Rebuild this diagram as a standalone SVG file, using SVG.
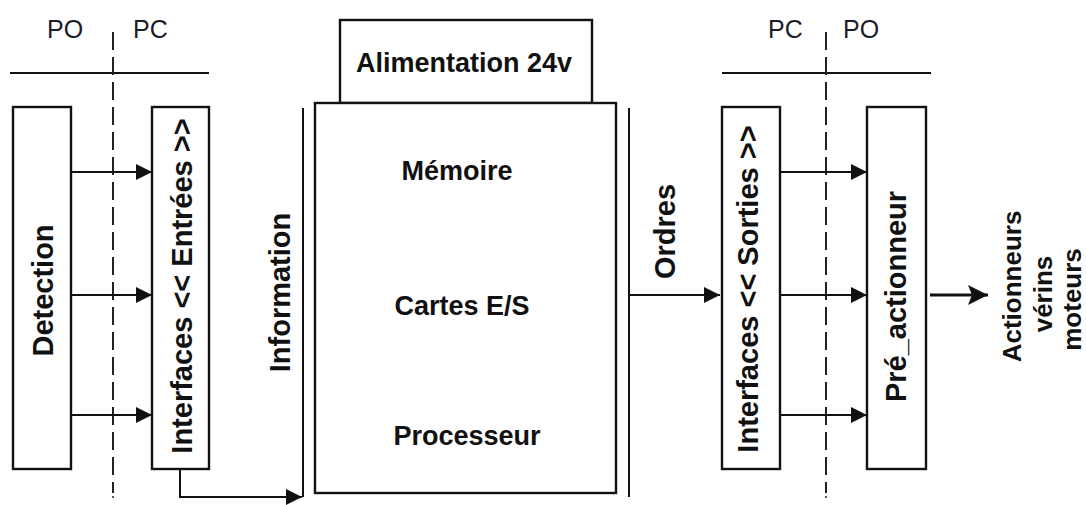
<svg xmlns="http://www.w3.org/2000/svg" width="1086" height="505" viewBox="0 0 1086 505">
<defs>
<style>
.box{fill:#fff;stroke:#111;stroke-width:2.4}
.ln{stroke:#111;stroke-width:2;fill:none}
.dash{stroke:#222;stroke-width:2;stroke-dasharray:18 7;fill:none}
.lbl{font-family:"Liberation Sans",Arial,sans-serif;font-size:25px;fill:#1c1c28}
.b{font-family:"Liberation Sans",Arial,sans-serif;font-weight:bold;fill:#111}
.h{font-size:27px;text-anchor:middle}
.v{font-size:29px;text-anchor:middle}
.a{font-size:26px;text-anchor:middle}
</style>
<marker id="ah" viewBox="0 0 16 16" refX="16" refY="8" markerWidth="16" markerHeight="16" markerUnits="userSpaceOnUse" orient="auto">
<path d="M0,0 L16,8 L0,16 z" fill="#111"/>
</marker>
<marker id="ahb" viewBox="0 0 20 20" refX="20" refY="10" markerWidth="20" markerHeight="20" markerUnits="userSpaceOnUse" orient="auto">
<path d="M0,0 L20,10 L0,20 L4,10 z" fill="#111"/>
</marker>
</defs>
<rect width="1086" height="505" fill="#fff"/>

<g id="frontiere-gauche">
<text class="lbl" x="47" y="38">PO</text>
<text class="lbl" x="133" y="38">PC</text>
<line class="ln" x1="10" y1="73" x2="209" y2="73"/>
<line class="dash" x1="113" y1="32" x2="113" y2="493"/>
<circle cx="113" cy="497" r="1" fill="#222"/>
</g>

<g id="frontiere-droite">
<text class="lbl" x="768" y="38">PC</text>
<text class="lbl" x="843" y="38">PO</text>
<line class="ln" x1="722" y1="73" x2="931" y2="73"/>
<line class="dash" x1="826" y1="32" x2="826" y2="493"/>
<circle cx="826" cy="497" r="1" fill="#222"/>
</g>

<g id="detection">
<rect class="box" x="13" y="107" width="58" height="362"/>
<text class="b v" transform="translate(53,290.5) rotate(-90)">Detection</text>
</g>

<g id="interfaces-entrees">
<rect class="box" x="152" y="107" width="57" height="362"/>
<text class="b v" transform="translate(192,286) rotate(-90)">Interfaces &lt;&lt; Entrées &gt;&gt;</text>
</g>

<g id="alimentation">
<rect class="box" x="340" y="20" width="252" height="83"/>
<text class="b h" x="464" y="72">Alimentation 24v</text>
</g>

<g id="automate">
<rect class="box" x="315" y="103" width="301" height="390"/>
<text class="b h" x="457" y="180">Mémoire</text>
<text class="b h" x="462" y="315">Cartes E/S</text>
<text class="b h" x="467" y="445">Processeur</text>
</g>

<g id="interfaces-sorties">
<rect class="box" x="722" y="107" width="58" height="362"/>
<text class="b v" transform="translate(758,289) rotate(-90)">Interfaces &lt;&lt; Sorties &gt;&gt;</text>
</g>

<g id="pre-actionneur">
<rect class="box" x="867" y="107" width="59" height="362"/>
<text class="b v" transform="translate(906,296.5) rotate(-90)">Pré_actionneur</text>
</g>

<g id="actionneurs">
<text class="b a" transform="translate(1021,286.5) rotate(-90)">Actionneurs</text>
<text class="b a" transform="translate(1052,294) rotate(-90)">vérins</text>
<text class="b a" transform="translate(1081,299.5) rotate(-90)">moteurs</text>
</g>

<g id="connecteurs">
<line class="ln" x1="71" y1="172" x2="152" y2="172" marker-end="url(#ah)"/>
<line class="ln" x1="71" y1="295" x2="152" y2="295" marker-end="url(#ah)"/>
<line class="ln" x1="71" y1="415" x2="152" y2="415" marker-end="url(#ah)"/>
<line class="ln" x1="303" y1="108" x2="303" y2="497"/>
<polyline class="ln" points="180,469 180,497 302,497" marker-end="url(#ah)"/>
<text class="b v" transform="translate(290,292.5) rotate(-90)">Information</text>
<line class="ln" x1="629" y1="108" x2="629" y2="497"/>
<line class="ln" x1="629" y1="295" x2="720" y2="295" marker-end="url(#ah)"/>
<text class="b v" transform="translate(675,231.5) rotate(-90)">Ordres</text>
<line class="ln" x1="780" y1="172" x2="867" y2="172" marker-end="url(#ah)"/>
<line class="ln" x1="780" y1="295" x2="867" y2="295" marker-end="url(#ah)"/>
<line class="ln" x1="780" y1="415" x2="867" y2="415" marker-end="url(#ah)"/>
<line x1="930" y1="295" x2="988" y2="295" stroke="#111" stroke-width="3.2" marker-end="url(#ahb)"/>
</g>
</svg>
